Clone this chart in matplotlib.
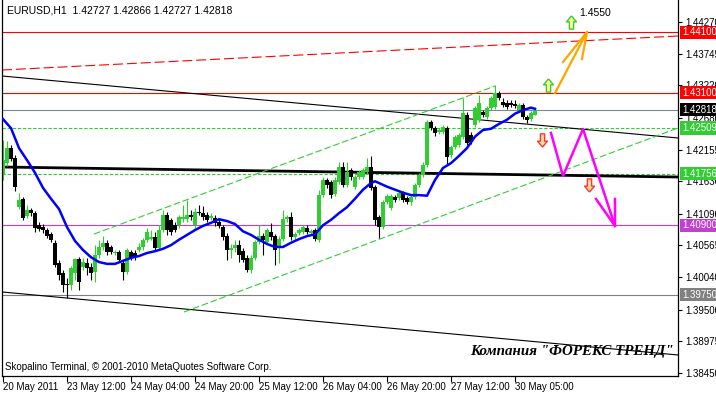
import matplotlib
matplotlib.use("Agg")
import matplotlib.pyplot as plt
import numpy as np
from matplotlib.path import Path

# --- OHLC, EURUSD H1 ---
opens = [1.4174, 1.4193, 1.4218, 1.4202, 1.4120, 1.4134, 1.4105, 1.4115, 1.4110, 1.4090,
         1.4087, 1.4082, 1.4075, 1.4061, 1.4027, 1.4011, 1.3993, 1.3991, 1.4011, 1.4034,
         1.4021, 1.4027, 1.4021, 1.4012, 1.4041, 1.4054, 1.4061, 1.4054, 1.4044, 1.4046,
         1.4027, 1.4012, 1.4046, 1.4044, 1.4049, 1.4054, 1.4066, 1.4067, 1.4070, 1.4052,
         1.4082, 1.4107, 1.4099, 1.4090, 1.4090, 1.4100, 1.4100, 1.4107, 1.4090, 1.4112,
         1.4110, 1.4107, 1.4102, 1.4102, 1.4095, 1.4087, 1.4072, 1.4049, 1.4052, 1.4057,
         1.4047, 1.4036, 1.4016, 1.4036, 1.4062, 1.4072, 1.4062, 1.4079, 1.4072, 1.4052,
         1.4067, 1.4100, 1.4104, 1.4070, 1.4077, 1.4079, 1.4085, 1.4077, 1.4082, 1.4066,
         1.4140, 1.4165, 1.4162, 1.4142, 1.4162, 1.4187, 1.4157, 1.4182, 1.4154, 1.4170,
         1.4170, 1.4178, 1.4187, 1.4154, 1.4104, 1.4087, 1.4129, 1.4119, 1.4137, 1.4135,
         1.4144, 1.4135, 1.4129, 1.4137, 1.4157, 1.4174, 1.4190, 1.4261, 1.4251, 1.4245,
         1.4245, 1.4251, 1.4207, 1.4220, 1.4223, 1.4237, 1.4273, 1.4240, 1.4256, 1.4265,
         1.4278, 1.4270, 1.4285, 1.4286, 1.4310, 1.4295, 1.4293, 1.4293, 1.4291, 1.4281,
         1.4290, 1.4270, 1.4266, 1.42727]
highs = [1.4232, 1.4230, 1.4223, 1.4207, 1.4144, 1.4137, 1.4124, 1.4119, 1.4114, 1.4095,
         1.4092, 1.4085, 1.4079, 1.4066, 1.4032, 1.4016, 1.4002, 1.4022, 1.4036, 1.4037,
         1.4036, 1.4036, 1.4027, 1.4057, 1.4066, 1.4072, 1.4066, 1.4057, 1.4049, 1.4049,
         1.4032, 1.4052, 1.4049, 1.4049, 1.4061, 1.4069, 1.4085, 1.4082, 1.4079, 1.4090,
         1.4115, 1.4112, 1.4102, 1.4095, 1.4107, 1.4124, 1.4132, 1.4115, 1.4119, 1.4124,
         1.4122, 1.4112, 1.4110, 1.4107, 1.4102, 1.4090, 1.4077, 1.4059, 1.4066, 1.4066,
         1.4052, 1.4041, 1.4041, 1.4066, 1.4090, 1.4077, 1.4085, 1.4094, 1.4075, 1.4072,
         1.4115, 1.4107, 1.4112, 1.4079, 1.4085, 1.4090, 1.4090, 1.4084, 1.4085, 1.4149,
         1.4170, 1.4168, 1.4165, 1.4170, 1.4195, 1.4195, 1.4195, 1.4185, 1.4174, 1.4182,
         1.4185, 1.4202, 1.4205, 1.4157, 1.4107, 1.4132, 1.4142, 1.4142, 1.4140, 1.4147,
         1.4147, 1.4139, 1.4140, 1.4160, 1.4177, 1.4195, 1.4265, 1.4265, 1.4255, 1.4251,
         1.4256, 1.4255, 1.4223, 1.4240, 1.4243, 1.4301, 1.4278, 1.4245, 1.4288, 1.4306,
         1.4281, 1.4288, 1.4305, 1.4323, 1.4313, 1.4301, 1.4298, 1.4298, 1.4298, 1.4293,
         1.4293, 1.4273, 1.4280, 1.42866]
lows = [1.4165, 1.4188, 1.4197, 1.4147, 1.4117, 1.4099, 1.4102, 1.4105, 1.4079, 1.4080,
        1.4077, 1.4069, 1.4062, 1.4021, 1.3999, 1.3979, 1.3969, 1.3983, 1.3999, 1.3983,
        1.4016, 1.4007, 1.3999, 1.3996, 1.4036, 1.4049, 1.4041, 1.4042, 1.4041, 1.4029,
        1.3999, 1.4009, 1.4032, 1.4032, 1.4046, 1.4049, 1.4062, 1.4066, 1.4049, 1.4049,
        1.4079, 1.4074, 1.4074, 1.4079, 1.4085, 1.4095, 1.4095, 1.4099, 1.4085, 1.4107,
        1.4099, 1.4095, 1.4099, 1.4089, 1.4085, 1.4066, 1.4032, 1.4036, 1.4046, 1.4029,
        1.4029, 1.4012, 1.4011, 1.4032, 1.4059, 1.4041, 1.4059, 1.4066, 1.4024, 1.4027,
        1.4064, 1.4095, 1.4066, 1.4066, 1.4074, 1.4075, 1.4075, 1.4074, 1.4064, 1.4062,
        1.4137, 1.4152, 1.4135, 1.4139, 1.4159, 1.4154, 1.4154, 1.4165, 1.4150, 1.4167,
        1.4167, 1.4175, 1.4149, 1.4090, 1.4069, 1.4084, 1.4125, 1.4115, 1.4129, 1.4132,
        1.4129, 1.4125, 1.4124, 1.4134, 1.4154, 1.4170, 1.4187, 1.4248, 1.4238, 1.4242,
        1.4242, 1.4190, 1.4202, 1.4217, 1.4220, 1.4233, 1.4223, 1.4225, 1.4253, 1.4261,
        1.4270, 1.4266, 1.4281, 1.4283, 1.4298, 1.4286, 1.4283, 1.4286, 1.4285, 1.4278,
        1.4266, 1.4260, 1.4263, 1.42727]
closes = [1.4198, 1.4218, 1.4200, 1.4154, 1.4132, 1.4102, 1.4115, 1.4110, 1.4085, 1.4084,
          1.4082, 1.4072, 1.4066, 1.4024, 1.4007, 1.3991, 1.3991, 1.4019, 1.4034, 1.3996,
          1.4029, 1.4019, 1.4011, 1.4041, 1.4054, 1.4061, 1.4046, 1.4046, 1.4046, 1.4032,
          1.4012, 1.4049, 1.4037, 1.4037, 1.4054, 1.4066, 1.4079, 1.4070, 1.4052, 1.4082,
          1.4107, 1.4082, 1.4079, 1.4082, 1.4104, 1.4104, 1.4107, 1.4104, 1.4112, 1.4110,
          1.4104, 1.4099, 1.4105, 1.4094, 1.4089, 1.4070, 1.4049, 1.4052, 1.4057, 1.4041,
          1.4032, 1.4016, 1.4036, 1.4062, 1.4072, 1.4066, 1.4082, 1.4070, 1.4049, 1.4067,
          1.4100, 1.4104, 1.4070, 1.4075, 1.4082, 1.4087, 1.4079, 1.4080, 1.4067, 1.4140,
          1.4165, 1.4157, 1.4140, 1.4165, 1.4187, 1.4157, 1.4178, 1.4170, 1.4170, 1.4178,
          1.4182, 1.4187, 1.4152, 1.4099, 1.4087, 1.4129, 1.4139, 1.4139, 1.4132, 1.4144,
          1.4132, 1.4129, 1.4137, 1.4157, 1.4174, 1.4190, 1.4261, 1.4251, 1.4243, 1.4248,
          1.4253, 1.4203, 1.4220, 1.4237, 1.4240, 1.4276, 1.4227, 1.4228, 1.4285, 1.4293,
          1.4273, 1.4285, 1.4301, 1.4310, 1.4301, 1.4290, 1.4286, 1.4290, 1.4288, 1.4290,
          1.4270, 1.4265, 1.4276, 1.42818]

# moving average, sampled along the bars
ma_bars = [0, 2, 4, 6, 8, 10, 12, 14, 16, 18, 20, 22, 24, 26, 28, 30, 32, 34, 36, 38,
           40, 42, 44, 46, 48, 50, 52, 54, 56, 58, 60, 62, 64, 66, 68, 70, 72, 74, 76, 78,
           80, 82, 84, 86, 88, 90, 92, 93, 94, 96, 98, 100, 102, 104, 106, 108, 110, 112,
           114, 116, 118, 120, 122, 124, 126, 128, 130, 132, 133]
ma_values = [1.4266, 1.4251, 1.4218, 1.4198, 1.4177, 1.4152, 1.4134, 1.4117, 1.4087, 1.4064,
             1.4049, 1.4037, 1.4029, 1.4026, 1.4026, 1.4031, 1.4036, 1.4039, 1.4044, 1.4047,
             1.4051, 1.4057, 1.4066, 1.4074, 1.4082, 1.4089, 1.4094, 1.4100, 1.4097, 1.4092,
             1.4080, 1.4074, 1.4066, 1.4059, 1.4054, 1.4054, 1.4061, 1.4067, 1.4072, 1.4075,
             1.4090, 1.4099, 1.4110, 1.4120, 1.4134, 1.4149, 1.4160, 1.4163, 1.4160, 1.4154,
             1.4149, 1.4144, 1.4140, 1.4140, 1.4139, 1.4165, 1.4185, 1.4193, 1.4205, 1.4218,
             1.4237, 1.4248, 1.4250, 1.4258, 1.4265, 1.4275, 1.4281, 1.4285, 1.4283]

time_ticks = [0, 16, 32, 48, 64, 80, 96, 112, 128]
time_labels = ["20 May 2011", "23 May 12:00", "24 May 04:00", "24 May 20:00",
               "25 May 12:00", "26 May 04:00", "26 May 20:00", "27 May 12:00",
               "30 May 05:00"]
price_ticks = [1.44270, 1.43745, 1.43220, 1.42680, 1.42155, 1.41630,
               1.41090, 1.40565, 1.40040, 1.39500, 1.38975, 1.38450]

# horizontal levels
level_prices = [1.44100, 1.43100, 1.42818, 1.42509, 1.41756, 1.40900, 1.39750]
level_line_colors = ["#FF0000", "#FF0000", "#778899", "#32CD32", "#32CD32", "#C040D0", "#808080"]
level_box_colors = ["#FF0000", "#FF0000", "#000000", "#32CD32", "#32CD32", "#C040D0", "#808080"]
level_styles = ["-", "-", "-", "--", "--", "-", "-"]

# trend lines: (bar0, bar1), (price0, price1)
upper_black = ([-0.25, 168.75], [1.43375, 1.42347])
lower_black = ([-0.25, 168.75], [1.39794, 1.38749])
mid_black = ([-0.25, 168.75], [1.41866, 1.41700])
red_dashed = ([-0.25, 168.75], [1.43474, 1.44038])
channel_top = ([22.75, 123], [1.40755, 1.43209])
channel_bottom = ([45.25, 168.75], [1.39462, 1.42513])

# forecast drawings
orange_bars = [138, 146]
orange_prices = [1.43093, 1.44104]
orange_head_bars = [140, 146, 144.75]
orange_head_prices = [1.43607, 1.44104, 1.43657]
zigzag_bars = [137, 140, 145, 153]
zigzag_prices = [1.42430, 1.41717, 1.42496, 1.40888]
zigzag_head_bars = [148.25, 153, 153]
zigzag_head_prices = [1.41336, 1.40888, 1.41336]
up_icon_bars = [142, 136.25]
up_icon_prices = [1.44270, 1.43226]
down_icon_bars = [134.75, 146.5]
down_icon_prices = [1.42314, 1.41568]
target_bar, target_price = 144, 1.4442

GREEN = "#32CD32"
plt.rcParams["font.family"] = ["Liberation Sans", "DejaVu Sans"]

fig = plt.figure(figsize=(7.16, 3.93), dpi=100)
ax = fig.add_axes([2 / 716, 17.5 / 393, 676 / 716, 375.5 / 393])
ax.set_xlim(-0.25, 168.75)
ax.set_ylim(1.38409, 1.44635)

# levels
for price, col, ls in zip(level_prices, level_line_colors, level_styles):
    if ls == "--":
        ax.axhline(price, color=col, lw=0.8, dashes=(3, 1.6), zorder=1)
    else:
        ax.axhline(price, color=col, lw=0.8, zorder=1)

# trend lines
ax.plot(*upper_black, color="black", lw=0.8, zorder=1)
ax.plot(*lower_black, color="black", lw=0.8, zorder=1)
ax.plot(*mid_black, color="black", lw=2.0, zorder=1)
ax.plot(*red_dashed, color="#FF0000", lw=0.8, dashes=(9, 3.5), zorder=1)
ax.plot(*channel_top, color=GREEN, lw=0.8, dashes=(6, 2.5), zorder=1)
ax.plot(*channel_bottom, color=GREEN, lw=0.8, dashes=(6, 2.5), zorder=1)

# candles
x = np.arange(len(opens))
o = np.array(opens)
c = np.array(closes)
bull = c >= o
cols = np.where(bull, GREEN, "black")
ax.vlines(x, lows, highs, colors=cols, lw=0.8, zorder=2)
body = np.maximum(np.abs(c - o), 0.00012)
ax.bar(x, body, bottom=np.minimum(o, c), width=0.76, color=cols, linewidth=0, zorder=2)

# moving average
ax.plot(ma_bars, ma_values, color="#0000FF", lw=1.8, zorder=3)

# forecast drawings
ax.plot(orange_bars, orange_prices, color="#FFA500", lw=1.6, zorder=4)
ax.plot(orange_head_bars, orange_head_prices, color="#FFA500", lw=1.6, zorder=4)
ax.plot(zigzag_bars, zigzag_prices, color="#FF00FF", lw=1.8, zorder=4)
ax.plot(zigzag_head_bars, zigzag_head_prices, color="#FF00FF", lw=1.8, zorder=4)

up_arrow = Path([(0, 1), (-0.75, 0.1), (-0.32, 0.1), (-0.32, -1), (0.32, -1),
                 (0.32, 0.1), (0.75, 0.1), (0, 1)])
down_arrow = Path([(0, -1), (-0.75, -0.1), (-0.32, -0.1), (-0.32, 1), (0.32, 1),
                   (0.32, -0.1), (0.75, -0.1), (0, -1)])
ax.plot(up_icon_bars, up_icon_prices, ls="none", marker=up_arrow, markersize=9.5,
        mfc="#FFFF99", mec="#33CC33", mew=1.0, zorder=5)
ax.plot(down_icon_bars, down_icon_prices, ls="none", marker=down_arrow, markersize=9.5,
        mfc="#FFDD99", mec="#FF3333", mew=1.0, zorder=5)
ax.text(target_bar, target_price, "1.4550", fontsize=7.5, ha="left", va="center", zorder=5)

# axes styling
ax.spines["top"].set_visible(False)
for side in ["left", "right", "bottom"]:
    ax.spines[side].set_linewidth(0.9)

ax.yaxis.tick_right()
ax.set_yticks(price_ticks)
ax.set_yticklabels([f"{p:.5f}" for p in price_ticks])
ax.tick_params(axis="y", length=3, width=0.8, pad=2, labelsize=7)
ax.set_xticks(time_ticks)
ax.set_xticklabels(time_labels, ha="left")
ax.tick_params(axis="x", length=4, width=0.8, pad=1, labelsize=7)

ytr = ax.get_yaxis_transform()
for price, col in zip(level_prices, level_box_colors):
    ax.text(1.0062, price, f"{price:.5f}", transform=ytr, fontsize=7, color="white",
            ha="left", va="center", clip_on=False, zorder=6,
            bbox=dict(boxstyle="square,pad=0.18", fc=col, ec="none"))

ax.text(0.0074, 0.971, "EURUSD,H1  1.42727 1.42866 1.42727 1.42818",
        transform=ax.transAxes, fontsize=7.5, ha="left", va="center")
ax.text(0.0044, 0.0226, "Skopalino Terminal, \u00a9 2001-2010 MetaQuotes Software Corp.",
        transform=ax.transAxes, fontsize=7, ha="left", va="center")
ax.text(0.994, 0.065, 'Компания "ФОРЕКС ТРЕНД"', transform=ax.transAxes,
        family=["Liberation Serif", "DejaVu Serif"], fontsize=10.8,
        fontweight="bold", fontstyle="italic", ha="right", va="center", zorder=5)

fig.savefig("out.png", dpi=100)
